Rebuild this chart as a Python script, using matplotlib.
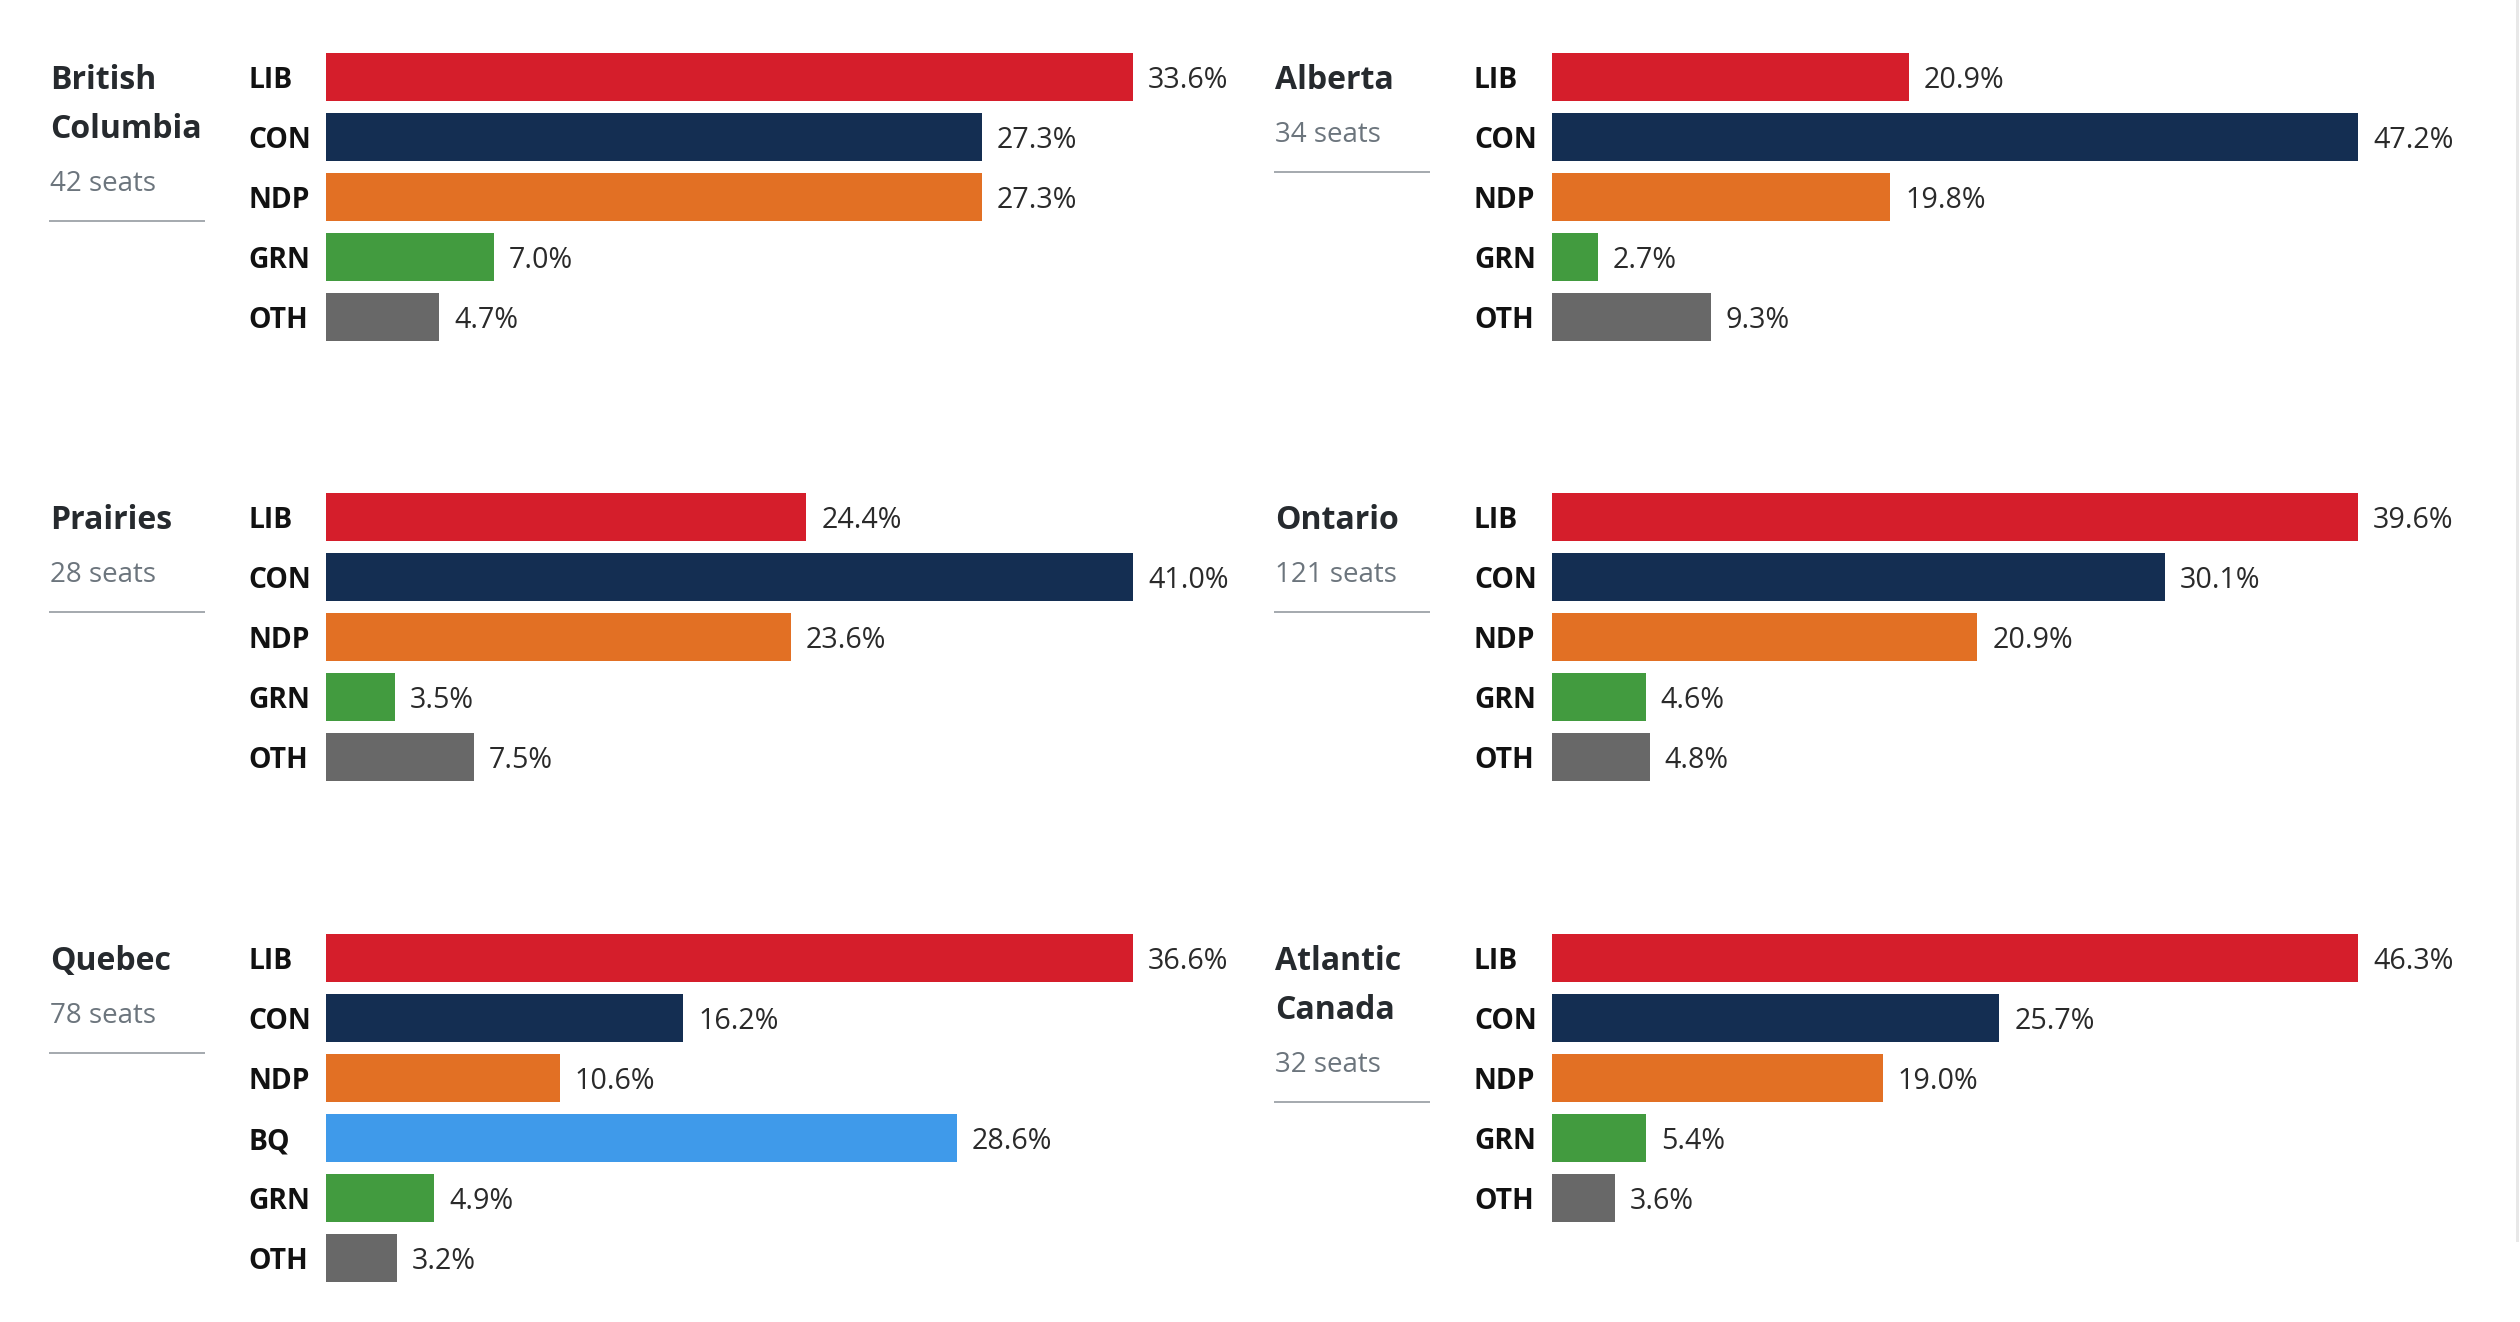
import matplotlib
matplotlib.use("Agg")
import matplotlib.pyplot as plt
from matplotlib.lines import Line2D

plt.rcParams['font.family'] = ['Open Sans', 'DejaVu Sans']

# ---- data ----
region_titles = ["British\nColumbia", "Alberta", "Prairies", "Ontario", "Quebec", "Atlantic\nCanada"]
region_seats = [42, 34, 28, 121, 78, 32]

parties_std = ["LIB", "CON", "NDP", "GRN", "OTH"]
parties_qc = ["LIB", "CON", "NDP", "BQ", "GRN", "OTH"]

bc_values = [33.6, 27.3, 27.3, 7.0, 4.7]
ab_values = [20.9, 47.2, 19.8, 2.7, 9.3]
pr_values = [24.4, 41.0, 23.6, 3.5, 7.5]
on_values = [39.6, 30.1, 20.9, 4.6, 4.8]
qc_values = [36.6, 16.2, 10.6, 28.6, 4.9, 3.2]
at_values = [46.3, 25.7, 19.0, 5.4, 3.6]

party_colors = {
    "LIB": "#d51e2b",
    "CON": "#142e52",
    "NDP": "#e27024",
    "BQ": "#3f9aea",
    "GRN": "#429b3f",
    "OTH": "#686868",
}

panels = [
    (region_titles[0], region_seats[0], parties_std, bc_values),
    (region_titles[1], region_seats[1], parties_std, ab_values),
    (region_titles[2], region_seats[2], parties_std, pr_values),
    (region_titles[3], region_seats[3], parties_std, on_values),
    (region_titles[4], region_seats[4], parties_qc, qc_values),
    (region_titles[5], region_seats[5], parties_std, at_values),
]

# ---- layout (pixels) ----
W, H = 2520, 1322
DPI = 100
fig = plt.figure(figsize=(W / DPI, H / DPI), dpi=DPI)
fig.patch.set_facecolor("white")

def fx(x):
    return x / W

def fy(y):
    return 1 - y / H

PT = 72 / DPI  # points per pixel

title_x = [50, 1275]
label_x = [248, 1474]
bar_x0 = [326, 1552]
bar_x1 = [1133, 2358]
row_y = [77, 517, 958]
row_step = 60

TITLE_C = "#262a2e"
SEATS_C = "#6c757d"
LABEL_C = "#111111"
VALUE_C = "#2a2a2a"
RULE_C = "#a6abb0"

for k, (title, seats, parties, values) in enumerate(panels):
    col = k % 2
    row = k // 2
    y0 = row_y[row]
    n = len(values)
    top = y0 - row_step / 2
    ax = fig.add_axes([fx(bar_x0[col]), fy(top + n * row_step),
                       fx(bar_x1[col] - bar_x0[col]), n * row_step / H])
    ypos = list(range(n))
    ax.barh(ypos, values, height=0.79,
            color=[party_colors[p] for p in parties], edgecolor="none")
    ax.set_xlim(0, max(values))
    ax.set_ylim(n - 0.5, -0.5)
    ax.axis("off")

    for i, (p, v) in enumerate(zip(parties, values)):
        ax.annotate(p, xy=(0, i), xycoords=("axes fraction", "data"),
                    xytext=(-(bar_x0[col] - label_x[col]) * PT, -11 * PT),
                    textcoords="offset points", ha="left", va="baseline",
                    fontsize=20.3, fontweight="bold", color=LABEL_C,
                    annotation_clip=False)
        ax.annotate(f"{v:.1f}%", xy=(v, i), xycoords="data",
                    xytext=(15 * PT, -11 * PT), textcoords="offset points",
                    ha="left", va="baseline", fontsize=20.6, color=VALUE_C,
                    annotation_clip=False)

    lines = title.split("\n")
    for j, line in enumerate(lines):
        fig.text(fx(title_x[col]), fy(y0 + 49 * j + 12), line,
                 fontsize=23, fontweight="bold", color=TITLE_C,
                 ha="left", va="baseline")
    extra = 49 * (len(lines) - 1)
    fig.text(fx(title_x[col]), fy(y0 + 55 + extra + 10), f"{seats} seats",
             fontsize=20, color=SEATS_C, ha="left", va="baseline")
    ly = fy(y0 + 95 + extra)
    fig.add_artist(Line2D([fx(title_x[col]), fx(title_x[col] + 154)], [ly, ly],
                          transform=fig.transFigure, color=RULE_C, lw=2 * PT))

# thin page scrollbar edge at right
fig.add_artist(Line2D([fx(2517), fx(2517)], [fy(0), fy(1240)],
                      transform=fig.transFigure, color="#e8e8e8", lw=3 * PT))

fig.savefig("out.png", dpi=DPI, facecolor="white")
